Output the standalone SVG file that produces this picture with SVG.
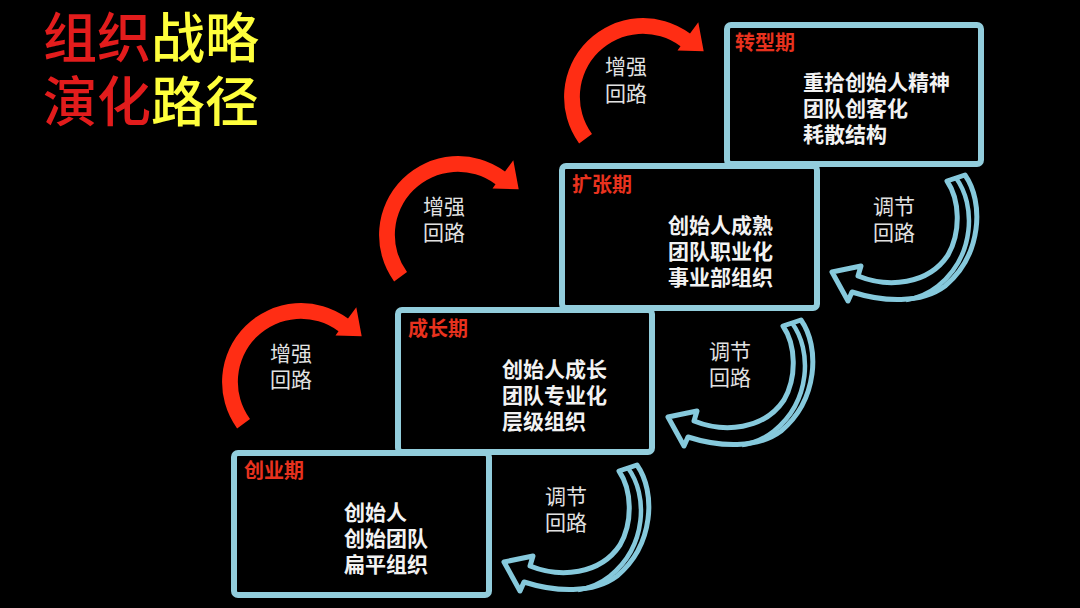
<svg xmlns="http://www.w3.org/2000/svg" width="1080" height="608" viewBox="0 0 1080 608">
<style>
.box{fill:#000;stroke:#92cddc;stroke-width:6}
.lbl{font-family:"Noto Sans CJK SC","Noto Sans",sans-serif;font-size:20px;font-weight:700;fill:#e8321e}
.body{font-family:"Noto Sans CJK SC","Noto Sans",sans-serif;font-size:21px;font-weight:700;fill:#f2f2f2}
.loop{font-family:"Noto Sans CJK SC","Noto Sans",sans-serif;font-size:21px;font-weight:400;fill:#e2e2e2}
.title{font-family:"Noto Sans CJK SC","Noto Sans",sans-serif;font-size:54px;font-weight:500}
.red{fill:#ff2d14}
.blue{fill:#000;stroke:#86c9dc;stroke-width:5;stroke-linejoin:round}
.fold{fill:none;stroke:#86c9dc;stroke-width:4.5}
</style>
<defs>
<path id="redArrow" class="red" d="M -63.9,46.4 A 79 79 0 0 1 47.0,-63.5 L 55.3,-74.8 L 60.7,-45.7 L 34.5,-46.6 L 37.5,-50.7 A 63 63 0 0 0 -51.0,37.0 Z"/>
<g id="blueArrow">
<path class="blue" d="M 619,471 L 637,465 C 656,492 654,545 617,576 C 593,594 555,592 524,582 L 520,591 L 504,562 L 533,556 L 530,566 C 560,578 600,575 620,545 C 633,522 632,490 619,471 Z"/>
<path class="fold" d="M 628,468 C 648,495 647,546 610,576 C 600,584 590,588 578,590"/>
</g>
</defs>
<rect width="1080" height="608" fill="#000"/>
<g id="title">
<text class="title" x="43" y="58"><tspan fill="#e21c1c">组织</tspan><tspan fill="#ffff3c">战略</tspan><tspan x="43" dy="64" fill="#e21c1c">演化</tspan><tspan fill="#ffff3c">路径</tspan></text>
</g>
<g id="connectors">
<use href="#redArrow" transform="translate(301,382)"/>
<use href="#redArrow" transform="translate(458,235)"/>
<use href="#redArrow" transform="translate(643,97)"/>
<use href="#blueArrow"/>
<use href="#blueArrow" transform="translate(164,-145)"/>
<use href="#blueArrow" transform="translate(328,-290)"/>
<text class="loop" x="270" y="361">增强<tspan x="270" dy="26">回路</tspan></text>
<text class="loop" x="423" y="214">增强<tspan x="423" dy="26">回路</tspan></text>
<text class="loop" x="605" y="74">增强<tspan x="605" dy="27">回路</tspan></text>
<text class="loop" x="545" y="504">调节<tspan x="545" dy="26">回路</tspan></text>
<text class="loop" x="709" y="359">调节<tspan x="709" dy="26">回路</tspan></text>
<text class="loop" x="873" y="214">调节<tspan x="873" dy="26">回路</tspan></text>
</g>
<g id="node-chuangye">
<rect class="box" x="234" y="453" width="255" height="142" rx="4"/>
<text class="lbl" x="244" y="478">创业期</text>
<text class="body" x="344" y="520">创始人<tspan x="344" dy="26">创始团队</tspan><tspan x="344" dy="26">扁平组织</tspan></text>
</g>
<g id="node-chengzhang">
<rect class="box" x="398" y="310" width="254" height="142" rx="4"/>
<text class="lbl" x="408" y="336">成长期</text>
<text class="body" x="502" y="377">创始人成长<tspan x="502" dy="26">团队专业化</tspan><tspan x="502" dy="26">层级组织</tspan></text>
</g>
<g id="node-kuozhang">
<rect class="box" x="562" y="166" width="255" height="142" rx="4"/>
<text class="lbl" x="572" y="192">扩张期</text>
<text class="body" x="668" y="233">创始人成熟<tspan x="668" dy="26">团队职业化</tspan><tspan x="668" dy="26">事业部组织</tspan></text>
</g>
<g id="node-zhuanxing">
<rect class="box" x="727" y="25" width="254" height="139" rx="4"/>
<text class="lbl" x="735" y="50">转型期</text>
<text class="body" x="803" y="90">重拾创始人精神<tspan x="803" dy="26">团队创客化</tspan><tspan x="803" dy="26">耗散结构</tspan></text>
</g>
</svg>
